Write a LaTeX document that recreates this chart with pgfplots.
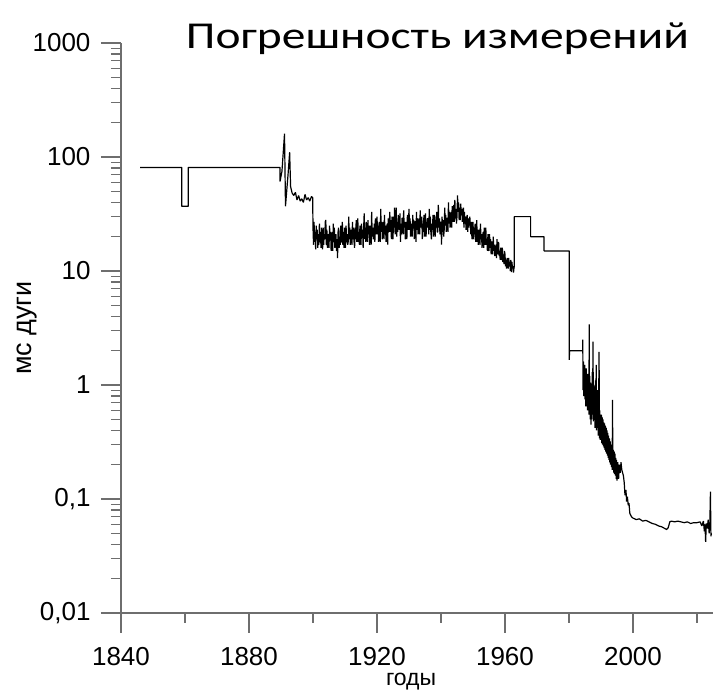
\documentclass[border=0pt]{standalone}
\usepackage{pgfplots}
\pgfplotsset{compat=1.18}
\usepackage{fontspec}
\setmainfont{Liberation Sans}
\newfontfamily\titlefont[FakeStretch=1.25]{Carlito}
\definecolor{axgray}{RGB}{110,110,110}
\begin{document}
\begin{tikzpicture}
\useasboundingbox (-121pt,-76pt) rectangle (592pt,613pt);
\begin{axis}[
  scale only axis,
  width=592pt, height=570pt,
  xmin=1840, xmax=2025,
  ymode=log, ymin=0.01, ymax=1000,
  axis x line*=bottom, axis y line*=left,
  axis line style={axgray, line width=1.3pt, -},
  every tick/.style={axgray, line width=1.3pt},
  tick align=outside,
  major tick length=20pt, minor tick length=10pt,
  xtick={1840,1880,1920,1960,2000},
  xticklabels={1840,1880,1920,1960,2000},
  minor xtick={1860,1900,1940,1980,2020},
  ytick={0.01,0.1,1,10,100,1000},
  yticklabels={{0,01},{0,1},1,10,100,1000},
  minor ytick={0.02,0.03,0.04,0.05,0.06,0.07,0.08,0.09,
    0.2,0.3,0.4,0.5,0.6,0.7,0.8,0.9,
    2,3,4,5,6,7,8,9,
    20,30,40,50,60,70,80,90,
    200,300,400,500,600,700,800,900},
  tick label style={font=\fontsize{26}{29}\selectfont, black},
  xticklabel style={yshift=-11pt},
  yticklabel style={xshift=-7pt},
  /pgf/number format/assume math mode=true,
  xlabel={годы},
  xlabel style={at={(axis description cs:0.49,0)}, anchor=base, yshift=-72pt, font=\fontsize{23}{25}\selectfont},
  ylabel={мс дуги},
  ylabel style={at={(axis description cs:-0.152,0.5)}, anchor=base, font=\fontsize{27}{29}\selectfont},
  title={Погрешность измерений},
  title style={at={(axis description cs:0.5346,0.9965)}, anchor=base, yshift=-10pt, font=\titlefont\fontsize{38}{42}\selectfont},
  clip=false,
]
\addplot[sharp plot, black, line width=1.2pt, line join=bevel] table {
x y
1846 81
1859 81
1859 37
1861 37
1861 81
1889.7 81
1889.7 61
1890.3 75
1891.1 160
1891.4 37
1892.2 70
1892.7 110
1893.0 55
1893.5 48
1894.0 46
1894.5 49
1895.0 42
1895.5 46
1896.0 41
1896.5 43
1897.0 40
1897.5 47
1898.0 42
1898.5 44
1899.0 41
1899.5 45
1899.9 44
1900.00 24
1900.17 17
1900.33 27
1900.50 18
1900.67 22
1900.83 15.5
1901.00 25
1901.17 19
1901.33 23
1901.50 16
1901.67 21
1901.83 17
1902.00 26
1902.17 18
1902.33 22
1902.50 16
1902.67 24
1902.83 19
1903.00 15.5
1903.17 24
1903.33 17
1903.50 21
1903.67 19
1903.83 27
1904.00 28
1904.17 17
1904.33 23
1904.50 16
1904.67 21
1904.83 18
1905.00 16
1905.17 25
1905.33 19
1905.50 22
1905.67 15
1905.83 20
1906.00 22
1906.17 15
1906.33 26
1906.50 18
1906.67 24
1906.83 16
1907.00 17
1907.17 21
1907.33 15
1907.50 19
1907.67 13
1907.83 22
1908.00 24
1908.17 16
1908.33 20
1908.50 17
1908.67 25
1908.83 18
1909.00 18
1909.17 27
1909.33 17
1909.50 22
1909.67 16
1909.83 24
1910.00 22
1910.17 16
1910.33 25
1910.50 18
1910.67 21
1910.83 17
1911.00 18
1911.17 30
1911.33 19
1911.50 24
1911.67 17
1911.83 22
1912.00 23
1912.17 17
1912.33 27
1912.50 19
1912.67 24
1912.83 18
1913.00 16
1913.17 24
1913.33 19
1913.50 28
1913.67 18
1913.83 21
1914.00 29
1914.17 18
1914.33 22
1914.50 17
1914.67 25
1914.83 20
1915.00 17
1915.17 26
1915.33 20
1915.50 23
1915.67 16
1915.83 24
1916.00 32
1916.17 19
1916.33 24
1916.50 18
1916.67 27
1916.83 21
1917.00 18
1917.17 28
1917.33 21
1917.50 25
1917.67 17
1917.83 23
1918.00 25
1918.17 17
1918.33 33
1918.50 20
1918.67 24
1918.83 19
1919.00 20
1919.17 26
1919.33 18
1919.50 29
1919.67 21
1919.83 23
1920.00 30
1920.17 21
1920.33 25
1920.50 18
1920.67 27
1920.83 20
1921.00 18
1921.17 35
1921.33 22
1921.50 27
1921.67 19
1921.83 24
1922.00 27
1922.17 19
1922.33 31
1922.50 21
1922.67 25
1922.83 18
1923.00 21
1923.17 26
1923.33 17
1923.50 29
1923.67 22
1923.83 25
1924.00 33
1924.17 22
1924.33 28
1924.50 19
1924.67 30
1924.83 23
1925.00 19
1925.17 30
1925.33 24
1925.50 36
1925.67 21
1925.83 27
1926.00 36
1926.17 20
1926.33 27
1926.50 22
1926.67 31
1926.83 24
1927.00 23
1927.17 32
1927.33 18
1927.50 26
1927.67 21
1927.83 29
1928.00 29
1928.17 21
1928.33 34
1928.50 24
1928.67 27
1928.83 19
1929.00 22
1929.17 27
1929.33 19
1929.50 31
1929.67 23
1929.83 26
1930.00 35
1930.17 23
1930.33 29
1930.50 20
1930.67 26
1930.83 22
1931.00 20
1931.17 31
1931.33 24
1931.50 28
1931.67 19
1931.83 27
1932.00 27
1932.17 18
1932.33 33
1932.50 23
1932.67 29
1932.83 21
1933.00 22
1933.17 29
1933.33 21
1933.50 34
1933.67 24
1933.83 27
1934.00 30
1934.17 19
1934.33 26
1934.50 22
1934.67 31
1934.83 20
1935.00 23
1935.17 32
1935.33 20
1935.50 27
1935.67 24
1935.83 29
1936.00 28
1936.17 21
1936.33 35
1936.50 23
1936.67 30
1936.83 22
1937.00 19
1937.17 26
1937.33 23
1937.50 31
1937.67 20
1937.83 27
1938.00 31
1938.17 20
1938.33 28
1938.50 24
1938.67 33
1938.83 22
1939.00 22
1939.17 38
1939.33 24
1939.50 29
1939.67 21
1939.83 26
1940.00 27
1940.17 17
1940.33 30
1940.50 22
1940.67 28
1940.83 20
1941.00 23
1941.17 36
1941.33 25
1941.50 31
1941.67 22
1941.83 29
1942.00 29
1942.17 22
1942.33 40
1942.50 26
1942.67 33
1942.83 24
1943.00 26
1943.17 33
1943.33 24
1943.50 37
1943.67 27
1943.83 31
1944.00 38
1944.17 27
1944.33 42
1944.50 29
1944.67 35
1944.83 26
1945.00 30
1945.17 46
1945.33 33
1945.50 40
1945.67 28
1945.83 36
1946.00 28
1946.17 39
1946.33 31
1946.50 35
1946.67 27
1946.83 33
1947.00 36
1947.17 24
1947.33 33
1947.50 26
1947.67 30
1947.83 23
1948.00 27
1948.17 31
1948.33 22
1948.50 29
1948.67 24
1948.83 28
1949.00 30
1949.17 25
1949.33 21
1949.50 27
1949.67 19
1949.83 24
1950.00 27
1950.17 19
1950.33 24
1950.50 21
1950.67 26
1950.83 18
1951.00 20
1951.17 28
1951.33 18
1951.50 23
1951.67 17
1951.83 22
1952.00 23
1952.17 17
1952.33 26
1952.50 19
1952.67 21
1952.83 16
1953.00 19
1953.17 22
1953.33 16
1953.50 24
1953.67 17
1953.83 20
1954.00 24
1954.17 17
1954.33 19
1954.50 15
1954.67 21
1954.83 16
1955.00 15
1955.17 21
1955.33 16
1955.50 19
1955.67 14
1955.83 18
1956.00 18
1956.17 14
1956.33 20
1956.50 15
1956.67 17
1956.83 13.5
1957.00 15
1957.17 17
1957.33 13
1957.50 19
1957.67 14
1957.83 16
1958.00 18
1958.17 13.5
1958.33 15
1958.50 12.5
1958.67 16
1958.83 13
1959.00 12.5
1959.17 16
1959.33 12
1959.50 14
1959.67 11.5
1959.83 15
1960.00 14
1960.17 11
1960.33 12.5
1960.50 10.5
1960.67 13
1960.83 11.5
1961.00 10.5
1961.17 13
1961.33 11
1961.50 12
1961.67 10
1961.83 12.5
1962.00 9.8
1962.17 12
1962.33 10.5
1962.50 11
1962.67 9.7
1962.83 10.8
1962.9 10.8
1962.9 30
1968.0 30
1968.0 20
1972.2 20
1972.2 15
1980.1 15
1980.1 1.66
1980.15 2.0
1984.3 2.0
1984.3 2.5
1984.4 0.9
1984.5 1.6
1984.6 0.8
1984.7 1.3
1984.8 0.85
1984.9 1.5
1985.0 0.75
1985.12 1.2
1985.25 0.65
1985.37 1.4
1985.5 0.7
1985.62 1.1
1985.75 0.6
1985.87 1.25
1986.0 0.7
1986.12 1.0
1986.25 0.55
1986.3 3.4
1986.37 0.6
1986.5 1.2
1986.62 0.5
1986.75 1.05
1986.87 0.45
1987.0 0.9
1987.12 0.5
1987.25 1.3
1987.37 0.55
1987.5 2.4
1987.62 0.48
1987.75 1.0
1987.87 0.5
1988.0 0.85
1988.12 0.42
1988.25 1.1
1988.37 0.5
1988.5 1.5
1988.62 0.4
1988.75 0.75
1988.87 0.42
1989.0 0.9
1989.12 0.36
1989.25 0.65
1989.4 1.95
1989.5 0.34
1989.62 0.6
1989.75 0.33
1989.87 0.55
1990.0 0.33
1990.12 0.55
1990.25 0.31
1990.37 0.52
1990.5 0.3
1990.62 0.5
1990.75 0.29
1990.87 0.47
1991.0 0.28
1991.12 0.46
1991.25 0.27
1991.37 0.44
1991.5 0.26
1991.62 0.42
1991.75 0.25
1991.87 0.4
1992.0 0.24
1992.12 0.38
1992.25 0.23
1992.37 0.36
1992.5 0.22
1992.62 0.34
1992.75 0.21
1992.87 0.32
1993.0 0.2
1993.12 0.3
1993.25 0.19
1993.37 0.29
1993.5 0.18
1993.6 0.74
1993.7 0.18
1993.87 0.27
1994.0 0.17
1994.12 0.26
1994.25 0.165
1994.37 0.25
1994.5 0.16
1994.62 0.23
1994.75 0.15
1994.87 0.22
1995.0 0.145
1995.25 0.21
1995.5 0.15
1995.75 0.2
1996.0 0.17
1996.25 0.21
1996.5 0.18
1996.75 0.17
1997.0 0.16
1997.25 0.14
1997.5 0.108
1997.8 0.12
1998.0 0.095
1998.25 0.105
1998.5 0.088
1998.75 0.092
1999.0 0.075
1999.5 0.07
2000 0.068
2001 0.066
2002 0.067
2003 0.064
2004 0.065
2005 0.063
2006 0.061
2007 0.06
2008 0.058
2009 0.057
2010 0.055
2010.5 0.054
2011 0.056
2011.5 0.063
2012 0.064
2013 0.063
2014 0.064
2015 0.063
2016 0.062
2017 0.063
2018 0.061
2019 0.062
2020 0.062
2021 0.063
2021.5 0.058
2022 0.064
2022.3 0.052
2022.5 0.06
2022.7 0.042
2022.9 0.061
2023.2 0.055
2023.5 0.066
2023.8 0.05
2024.0 0.058
2024.2 0.116
2024.35 0.047
2024.5 0.05
2024.6 0.05
};
\end{axis}
\end{tikzpicture}
\end{document}
